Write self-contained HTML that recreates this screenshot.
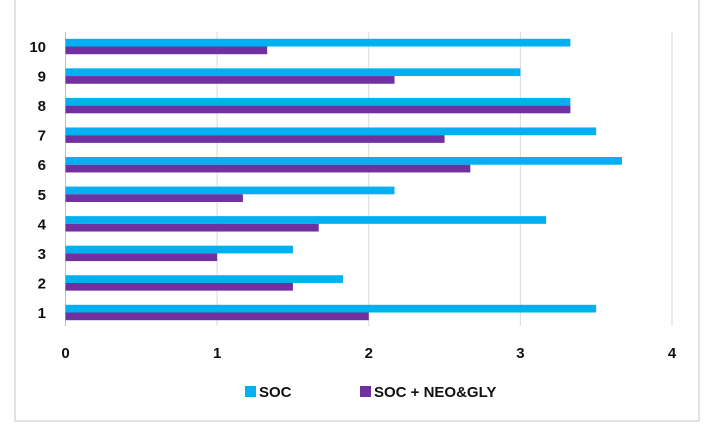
<!DOCTYPE html>
<html><head><meta charset="utf-8"><style>
body{margin:0;background:#fff;font-family:"Liberation Sans",sans-serif}
svg text{font-family:"Liberation Sans",sans-serif;font-weight:bold;fill:#111}
</style></head><body>
<svg width="709" height="433">
<rect x="15" y="-2" width="684" height="423" fill="#fff" stroke="#d9d9d9" stroke-width="1.5"/>
<g id="grid"></g><g id="bars"></g><g id="labels"></g>
<g>
<rect x="245" y="386" width="11" height="11" fill="#00b0f0"/>
<text x="259" y="397" font-size="15">SOC</text>
<rect x="360" y="386" width="11" height="11" fill="#7030a0"/>
<text x="374" y="397" font-size="15">SOC + NEO&amp;GLY</text>
</g>
</svg>
<script>
const categories=["1","2","3","4","5","6","7","8","9","10"];
const soc=[3.5,1.83,1.5,3.17,2.17,3.67,3.5,3.33,3.0,3.33];
const socNeoGly=[2.0,1.5,1.0,1.67,1.17,2.67,2.5,3.33,2.17,1.33];
const xTicks=[0,1,2,3,4];
const NS="http://www.w3.org/2000/svg";
const x0=65.5,x1=672,y1=312.5,y10=46.5,bh=7.7;
const xs=v=>x0+(x1-x0)*v/4;
const yc=i=>y1-(y1-y10)*i/(categories.length-1);
function mk(t,a,p){const e=document.createElementNS(NS,t);for(const k in a)e.setAttribute(k,a[k]);p.appendChild(e);return e;}
const g=document.getElementById('grid'),b=document.getElementById('bars'),l=document.getElementById('labels');
xTicks.forEach(t=>{
 const ln=mk('line',{x1:xs(t),x2:xs(t),y1:32,y2:326,stroke:t===0?'#bfbfbf':'#d9d9d9','stroke-width':1},g);
 
 
 const tx=mk('text',{x:xs(t),y:358,'text-anchor':'middle','font-size':15},l);tx.textContent=t;
 
 
});
categories.forEach((c,i)=>{
 const y=yc(i);
 const r1=mk('rect',{x:x0,y:y-bh,width:xs(soc[i])-x0,height:bh,fill:'#00b0f0'},b);
 
 
 const r2=mk('rect',{x:x0,y:y,width:xs(socNeoGly[i])-x0,height:bh,fill:'#7030a0'},b);
 
 
 const tx=mk('text',{x:46,y:y+5.5,'text-anchor':'end','font-size':15},l);tx.textContent=c;
 
 
});
</script>
</body></html>
